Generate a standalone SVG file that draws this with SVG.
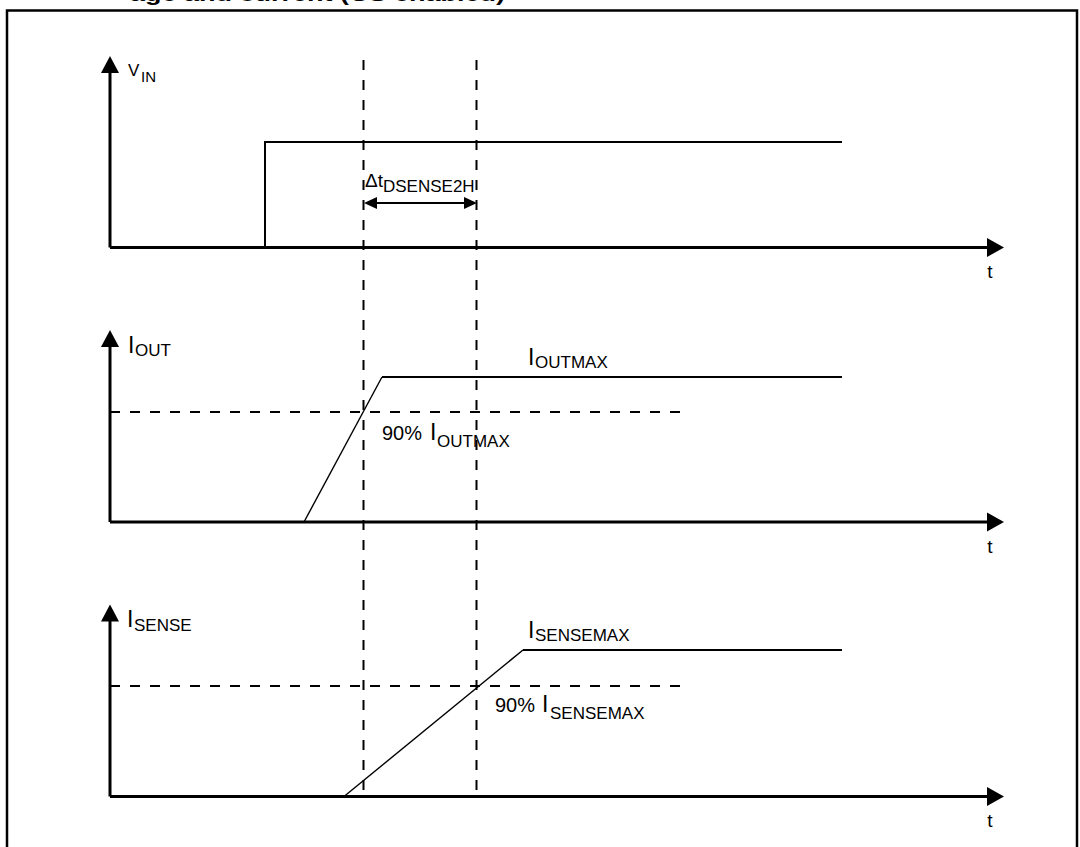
<svg xmlns="http://www.w3.org/2000/svg" width="1080" height="847" viewBox="0 0 1080 847">
<style>
text{font-family:"Liberation Sans",Arial,sans-serif;fill:#000}
.lbl{font-size:17px}
.big{font-size:23px}
.pct{font-size:20px}
.tt{font-size:19px}
.axis{stroke:#000;stroke-width:3;fill:none}
.sig{stroke:#000;stroke-width:2;fill:none}
.ramp{stroke:#000;stroke-width:1.4;fill:none}
.dash{stroke:#000;stroke-width:2;fill:none;stroke-dasharray:10 10}
.head{fill:#000;stroke:none}
</style>
<rect x="0" y="0" width="1080" height="847" fill="#fff"/>
<text x="130" y="1" font-size="20" font-weight="bold" textLength="375" lengthAdjust="spacingAndGlyphs">age and current (CS enabled)</text>
<rect id="frame" x="7" y="10.5" width="1070" height="860" fill="none" stroke="#000" stroke-width="2.5"/>

<g id="connectors">
  <line class="dash" x1="363.5" y1="60" x2="363.5" y2="796"/>
  <line class="dash" x1="476.5" y1="60" x2="476.5" y2="796"/>
  <line class="dash" x1="110" y1="412" x2="686" y2="412"/>
  <line class="dash" x1="110" y1="686" x2="686" y2="686"/>
  <line class="sig" x1="375" y1="203" x2="466" y2="203"/>
  <polygon class="head" points="364,203 377,197 377,209"/>
  <polygon class="head" points="477,203 464,197 464,209"/>
</g>

<g id="panel-vin">
  <line class="axis" x1="110" y1="247.5" x2="110" y2="72"/>
  <polygon class="head" points="110,56 101,73 119,73"/>
  <line class="axis" x1="110" y1="247.5" x2="988" y2="247.5"/>
  <polygon class="head" points="1004,247.5 987,238 987,257"/>
  <polyline class="sig" points="265,247.5 265,142 842,142"/>
  <text x="128" y="76" font-size="17">V</text><text x="141" y="82" font-size="15">IN</text>
  <text class="tt" x="990" y="278" text-anchor="middle">t</text>
</g>

<g id="panel-iout">
  <line class="axis" x1="110" y1="522" x2="110" y2="346"/>
  <polygon class="head" points="110,330 101,347 119,347"/>
  <line class="axis" x1="110" y1="522" x2="988" y2="522"/>
  <polygon class="head" points="1004,522 987,512.5 987,531.5"/>
  <line class="ramp" x1="304" y1="522" x2="382" y2="377"/>
  <line class="sig" x1="382" y1="377" x2="842" y2="377"/>
  <text class="big" x="128" y="353">I</text><text class="lbl" x="135" y="355.5">OUT</text>
  <text class="big" x="528" y="365">I</text><text class="lbl" x="535" y="368">OUTMAX</text>
  <text class="pct" x="382" y="440">90%</text><text class="big" x="430" y="440">I</text><text class="lbl" x="437" y="447">OUTMAX</text>
  <text class="tt" x="990" y="552.5" text-anchor="middle">t</text>
</g>

<g id="panel-isense">
  <line class="axis" x1="110" y1="796.5" x2="110" y2="620"/>
  <polygon class="head" points="110,604.5 101,621.5 119,621.5"/>
  <line class="axis" x1="110" y1="796.5" x2="988" y2="796.5"/>
  <polygon class="head" points="1004,796.5 987,787 987,806"/>
  <line class="ramp" x1="344" y1="796.5" x2="523" y2="650"/>
  <line class="sig" x1="523" y1="650" x2="842" y2="650"/>
  <text class="big" x="127" y="627">I</text><text class="lbl" x="134" y="631">SENSE</text>
  <text class="big" x="528" y="638">I</text><text class="lbl" x="535" y="641">SENSEMAX</text>
  <text class="pct" x="495" y="712">90%</text><text class="big" x="542" y="712">I</text><text class="lbl" x="550" y="719">SENSEMAX</text>
  <text class="tt" x="990" y="827" text-anchor="middle">t</text>
</g>

<g id="label-delta">
  <text class="tt" x="365" y="187">Δt</text><text class="lbl" x="383" y="192">DSENSE2H</text>
</g>
</svg>
